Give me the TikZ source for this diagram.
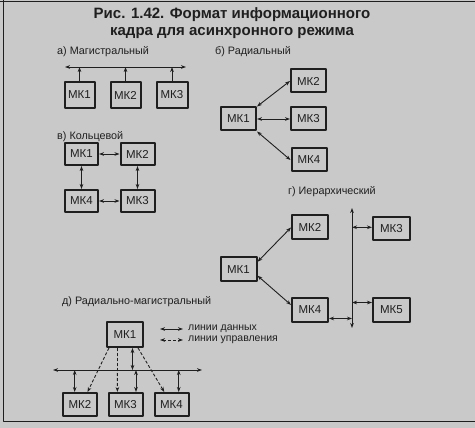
\documentclass[tikz,border=0pt]{standalone}
\usepackage{fontspec}
\setmainfont{Liberation Sans}
\usetikzlibrary{arrows.meta}
\definecolor{paper}{gray}{0.79}
\definecolor{ink}{gray}{0.12}

\begin{document}
\begin{tikzpicture}[x=1pt, y=-1pt, >={Stealth[length=5pt,width=3.6pt]}, line join=round,
	box/.style={draw=ink, line width=2pt, minimum width=35pt, minimum height=23pt, inner sep=0pt, text=ink, font=\fontsize{11.5}{13}\selectfont},
	lbl/.style={anchor=west, inner sep=0pt, text=ink, font=\fontsize{10.8}{12}\selectfont},
	wire/.style={draw=ink, line width=0.9pt},
	ctrl/.style={wire, dash pattern=on 3pt off 2pt}]
	% Nền trang và khung
	\fill[paper] (0,0) rectangle (475,428);
	\useasboundingbox (0,0) rectangle (475,428);
	\draw[ink, line width=0.6pt] (0,1) -- (475,1);
	\draw[ink, line width=1pt] (3,0) -- (3,421) -- (475,421);
	
	% Tiêu đề
	\node[text=ink, align=center, inner sep=0pt, font=\bfseries\fontsize{15}{17}\selectfont] (title) at (232,23) {Рис. 1.42. Формат информационного\\кадра для асинхронного режима};
	
	% 1. а) Магистральный
	\node[lbl] (la) at (57,52) {а) Магистральный};
	\coordinate (aL) at (65,67);
	\coordinate (aR) at (186,67);
	\node[box, minimum width=30pt, minimum height=26pt] (a1) at (79.5,95) {МК1};
	\node[box, minimum width=30pt, minimum height=26pt] (a2) at (125.5,95) {МК2};
	\node[box, minimum width=31pt, minimum height=26pt] (a3) at (172,95) {МК3};
	\draw[wire, <->] (aL) -- (aR);
	\draw[wire, ->] (a1.north) -- (a1.north |- aL);
	\draw[wire, ->] (a2.north) -- (a2.north |- aL);
	\draw[wire, ->] (a3.north) -- (a3.north |- aL);
	
	% 2. б) Радиальный
	\node[lbl] (lb) at (215,52) {б) Радиальный};
	\node[box] (b1) at (238.5,119) {МК1};
	\node[box] (b2) at (308.5,81) {МК2};
	\node[box] (b3) at (308.5,119) {МК3};
	\node[box] (b4) at (309,160) {МК4};
	\draw[wire, <->] (b1.north east) -- (b2.west);
	\draw[wire, <->] (b1.east) -- (b3.west);
	\draw[wire, <->] (b1.south east) -- (b4.west);
	
	% 3. в) Кольцевой
	\node[lbl] (lc) at (57,137) {в) Кольцевой};
	\node[box, minimum width=33pt, minimum height=22pt] (c1) at (81.5,154) {МК1};
	\node[box, minimum width=34pt, minimum height=22pt] (c2) at (137.5,154) {МК2};
	\node[box, minimum width=34pt, minimum height=22pt] (c3) at (137.5,201) {МК3};
	\node[box, minimum width=33pt, minimum height=22pt] (c4) at (81.5,201) {МК4};
	\draw[wire, <->] (c1.east) -- (c2.west);
	\draw[wire, <->] (c4.east) -- (c3.west);
	\draw[wire, <->] (c1.south) -- (c4.north);
	\draw[wire, <->] (c2.south) -- (c3.north);
	
	% 4. г) Иерархический
	\node[lbl] (lg) at (288,192) {г) Иерархический};
	\coordinate (gTop) at (352,208);
	\coordinate (gBot) at (352,328);
	\node[box, minimum width=36pt, minimum height=24pt] (g1) at (238.5,269.5) {МК1};
	\node[box, minimum width=36pt, minimum height=24pt] (g2) at (310,227.5) {МК2};
	\node[box, minimum width=37pt, minimum height=23pt] (g3) at (391.5,229) {МК3};
	\node[box, minimum width=36pt, minimum height=24pt] (g4) at (310,310) {МК4};
	\node[box, minimum width=37pt, minimum height=24pt] (g5) at (391.5,310) {МК5};
	\draw[wire, <->] (gTop) -- (gBot);
	\draw[wire, <->] (g1.22) -- (g2.west);
	\draw[wire, <->] (g1.-18) -- (g4.165);
	\draw[wire, <->] (g4.-24) -- (g4.-24 -| gTop);
	\draw[wire, <->] (g3.175 -| gTop) -- (g3.175);
	\draw[wire, <->] (g5.159 -| gTop) -- (g5.159);
	
	% 5. д) Радиально-магистральный
	\node[lbl] (ld) at (62,302) {д) Радиально-магистральный};
	\coordinate (dL) at (53,370);
	\coordinate (dR) at (202,370);
	\node[box, minimum width=36pt, minimum height=25pt] (d1) at (125,334.5) {МК1};
	\node[box, minimum width=34pt, minimum height=23pt] (d2) at (80,404.5) {МК2};
	\node[box, minimum width=34pt, minimum height=23pt] (d3) at (125.5,404.5) {МК3};
	\node[box, minimum width=34pt, minimum height=23pt] (d4) at (171.5,404.5) {МК4};
	\draw[wire, <->] (dL) -- (dR);
	\draw[wire, <->] (d1.-61) -- (d1.-61 |- dL);
	\draw[wire, <->] (d2.113 |- dL) -- (d2.113);
	\draw[wire, <->] (d3.50 |- dL) -- (d3.50);
	\draw[wire, <->] (d4.60 |- dL) -- (d4.60);
	\draw[ctrl, ->] (d1.-140) -- (d2.59);
	\draw[ctrl, ->] (d1.-119) -- (d3.123);
	\draw[ctrl, ->] (d1.-46) -- (d4.120);
	
	% Условные обозначения
	\coordinate (k1a) at (160,329);
	\coordinate (k1b) at (183,329);
	\coordinate (k2a) at (160,340);
	\coordinate (k2b) at (183,340);
	\draw[wire, <->] (k1a) -- (k1b);
	\draw[ctrl, <->] (k2a) -- (k2b);
	\node[lbl, font=\fontsize{10.5}{12}\selectfont] (kdat) at (188,329) {линии данных};
	\node[lbl, font=\fontsize{10.5}{12}\selectfont] (kctl) at (188,340) {линии управления};
\end{tikzpicture}
\end{document}
